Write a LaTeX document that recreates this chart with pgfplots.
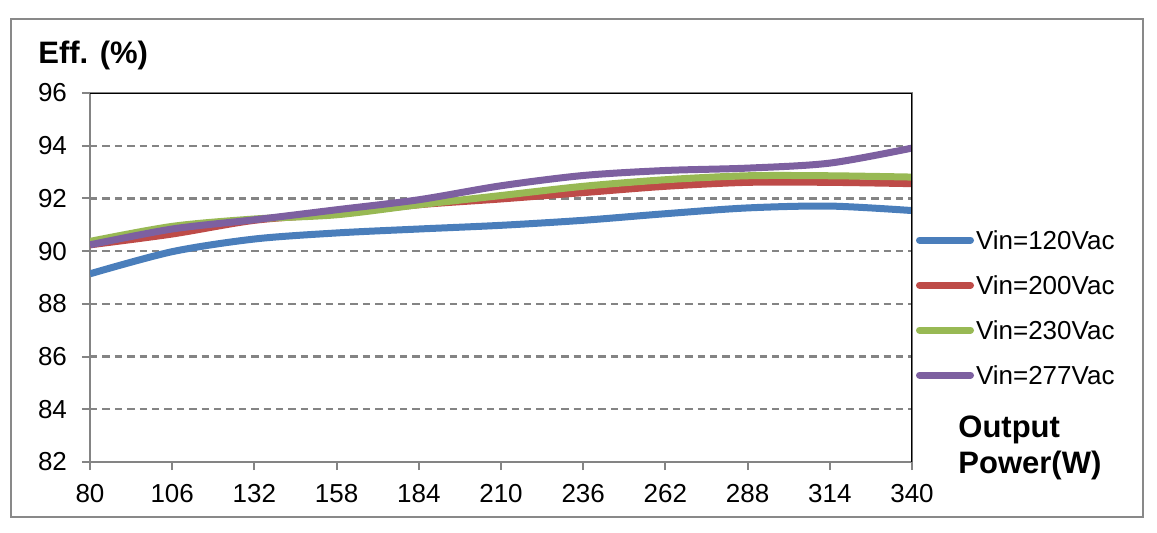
\documentclass[border=0pt]{standalone}
\usepackage{pgfplots}
\pgfplotsset{compat=1.18}
\usepackage{fontspec}
\setmainfont{Liberation Sans}
\definecolor{cblue}{HTML}{4A7EBB}
\definecolor{cred}{HTML}{BE4B48}
\definecolor{cgreen}{HTML}{98B954}
\definecolor{cpurple}{HTML}{7D60A0}
\definecolor{frame}{HTML}{898989}
\definecolor{gridc}{HTML}{848484}
\begin{document}
\begin{tikzpicture}
\path[use as bounding box] (0pt,0pt) rectangle (578.5pt,266pt);
\draw[frame, line width=0.9pt] (5.5pt,7.5pt) rectangle (571.5pt,256.5pt);
\begin{axis}[
  at={(45pt,35pt)}, anchor=south west,
  scale only axis, width=411pt, height=184.5pt,
  xmin=80, xmax=340, ymin=82, ymax=96,
  xtick={80,106,...,340}, ytick={82,84,...,96},
  /pgf/number format/assume math mode=true,
  ticklabel style={font=\fontsize{13}{15}\selectfont},
  xticklabel style={yshift=-3.5pt},
  yticklabel style={xshift=-4pt},
  tick align=outside, xtick pos=bottom, ytick pos=left,
  major tick length=4pt,
  tick style={gridc, line width=1pt},
  axis line style={gridc, line width=1pt},
  ymajorgrids,
  major grid style={gridc, line width=1.1pt, dash pattern=on 3.7pt off 2.5pt},
  legend style={at={(1,0.6268)}, anchor=north west, xshift=2pt,
    draw=none, fill=none, inner sep=0pt, outer sep=0pt,
    row sep=13.2pt, column sep=1pt,
    font=\fontsize{13}{15}\selectfont,
    nodes={inner sep=0pt, text height=9.3pt, text depth=0pt}},
  legend cell align=left,
  legend image code/.code={\draw[#1, line cap=round] (0pt,0pt) -- (25.5pt,0pt);},
  every axis plot/.append style={line width=3.5pt, smooth, no markers},
]
\addplot[cblue] coordinates {(80,89.14) (106,89.98) (132,90.46) (158,90.69) (184,90.84) (210,90.98) (236,91.17) (262,91.42) (288,91.64) (314,91.71) (340,91.54)};
\addlegendentry{Vin=120Vac}
\addplot[cred] coordinates {(80,90.24) (106,90.65) (132,91.17) (158,91.42) (184,91.76) (210,91.98) (236,92.22) (262,92.46) (288,92.61) (314,92.61) (340,92.56)};
\addlegendentry{Vin=200Vac}
\addplot[cgreen] coordinates {(80,90.37) (106,90.94) (132,91.22) (158,91.38) (184,91.76) (210,92.11) (236,92.46) (262,92.71) (288,92.86) (314,92.86) (340,92.81)};
\addlegendentry{Vin=230Vac}
\addplot[cpurple] coordinates {(80,90.24) (106,90.84) (132,91.19) (158,91.57) (184,91.95) (210,92.48) (236,92.87) (262,93.06) (288,93.15) (314,93.34) (340,93.91)};
\addlegendentry{Vin=277Vac}
\draw[black, line width=1pt] (rel axis cs:0,1) -- (rel axis cs:1,1) -- (rel axis cs:1,0);
\end{axis}
\node[anchor=base west, inner sep=0pt, font=\bfseries\fontsize{15.5}{18}\selectfont] at (19pt,234.5pt) {Eff. (\%)};
\node[anchor=base west, inner sep=0pt, font=\bfseries\fontsize{15.5}{18}\selectfont] at (479pt,47.5pt) {Output};
\node[anchor=base west, inner sep=0pt, font=\bfseries\fontsize{15.5}{18}\selectfont] at (479pt,29.5pt) {Power(W)};
\end{tikzpicture}
\end{document}
